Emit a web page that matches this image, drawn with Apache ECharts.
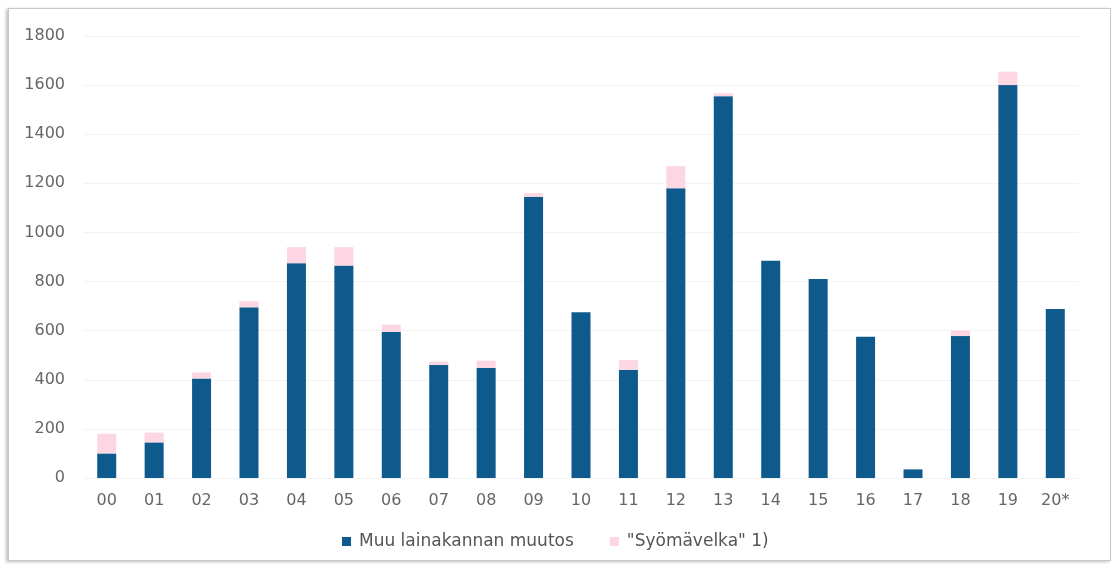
<!DOCTYPE html>
<html>
<head>
<meta charset="utf-8">
<script src="https://cdn.jsdelivr.net/npm/echarts@6/dist/echarts.min.js"></script>
<style>
html,body{margin:0;padding:0;background:#fff;}
#frame{position:absolute;left:8px;top:8px;width:1103px;height:553px;border:1px solid #c8c8c8;box-shadow:-2px 1px 3px rgba(0,0,0,0.25);box-sizing:border-box;}
#chart{position:absolute;left:0;top:0;width:1115px;height:564px;}
</style>
</head>
<body>
<div id="frame"></div>
<div id="chart"></div>
<script>
var categories = ['00','01','02','03','04','05','06','07','08','09','10','11','12','13','14','15','16','17','18','19','20*'];
var muuLainakanta = [100,145,405,695,875,865,595,460,448,1145,675,440,1180,1555,885,810,575,35,578,1600,688];
var syomavelka = [80,40,25,25,65,75,30,15,30,15,0,40,90,12,0,0,0,0,22,55,0];
var yTicks = [0,200,400,600,800,1000,1200,1400,1600,1800];

var chart = echarts.init(document.getElementById('chart'));
chart.setOption({
  animation:false,
  textStyle:{fontFamily:'DejaVu Sans'},
  grid:{left:83,right:36,top:36,bottom:86},
  legend:{
    left:337, top:528,
    itemWidth:9, itemHeight:9, itemGap:36,
    icon:'rect',
    textStyle:{fontSize:17,color:'#555',fontFamily:'DejaVu Sans',padding:[0,0,0,3]},
    data:['Muu lainakannan muutos','"Syömävelka" 1)']
  },
  xAxis:{
    type:'category',
    data:categories,
    axisLine:{show:false},
    axisTick:{show:false},
    axisLabel:{fontSize:16,color:'#666',margin:15}
  },
  yAxis:{
    type:'value',
    min:yTicks[0], max:yTicks[yTicks.length-1], interval:200,
    axisLine:{show:false},
    axisTick:{show:false},
    axisLabel:{fontSize:16,color:'#666',margin:18,formatter:function(v){return String(v);}},
    splitLine:{lineStyle:{color:'#f3f3f3',width:1}}
  },
  series:[
    {name:'Muu lainakannan muutos',type:'bar',stack:'a',barWidth:19,data:muuLainakanta,itemStyle:{color:'#0f5a8c'}},
    {name:'"Syömävelka" 1)',type:'bar',stack:'a',barWidth:19,data:syomavelka,itemStyle:{color:'#fcd6e2'}}
  ]
});
</script>
</body>
</html>
